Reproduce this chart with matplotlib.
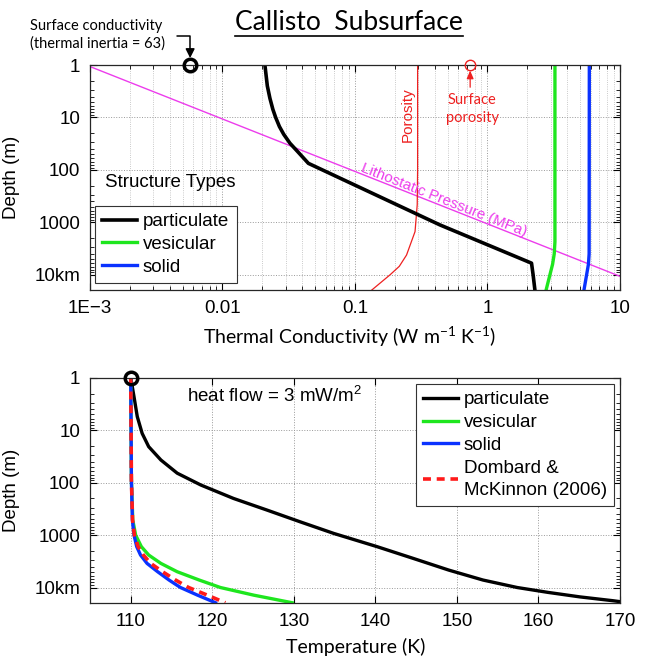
"""
Callisto subsurface: thermal conductivity and temperature profiles with depth
"""

import numpy as np
import matplotlib
matplotlib.use("Agg")
import matplotlib.pyplot as plt
from matplotlib.lines import Line2D
from matplotlib.ticker import NullFormatter, FixedLocator

SANS = "Liberation Sans"
CALI = "Lato"
plt.rcParams["font.family"] = SANS
plt.rcParams["font.size"] = 13.5

# Top panel: conductivity profiles (W m-1 K-1) against depth (m)
part_depth = [1, 2.5, 4.3, 7, 10, 14.9, 21, 31, 45, 75, 1120, 6000, 10000, 19500]
part_k     = [0.0209, 0.0218, 0.0228, 0.0240, 0.0252, 0.0269, 0.0290, 0.0323, 0.0370,
              0.0445, 0.438, 2.15, 2.21, 2.28]
vesi_depth = [1, 2350, 4000, 6300, 10000, 19500]
vesi_k     = [3.23, 3.23, 3.19, 3.10, 2.96, 2.77]
soli_depth = [1, 4000, 6300, 10000, 19500]
soli_k     = [5.87, 5.85, 5.78, 5.60, 5.35]
poro_depth = [1, 100, 460, 1500, 4200, 6900, 10000, 19500]
poro_val   = [0.297, 0.297, 0.295, 0.284, 0.245, 0.216, 0.184, 0.134]
litho_p     = [0.001, 10]
litho_depth = [1.07, 10700]
surf_k      = 0.0057
surf_poro   = 0.74

# Bottom panel: temperature (K) against depth (m)
t_part_depth = [1, 2.3, 5.5, 11.5, 20.6, 37, 66, 111, 200, 333, 560, 930, 1660, 2770,
                4650, 7200, 10000, 12400, 15100, 17900, 18600]
t_part       = [110, 110.4, 110.8, 111.4, 112.2, 113.7, 115.7, 118.6, 122.6, 126.7, 130.8,
                134.9, 140.2, 144.6, 149.0, 153.2, 157.4, 161.2, 165.1, 169.2, 170]
t_depth      = [1, 89, 516, 1000, 1660, 2400, 3470, 5000, 7200, 10000, 14000, 19500]
t_vesi       = [110, 110.08, 110.25, 110.6, 111.3, 112.2, 113.7, 115.7, 118.4, 121.0, 125.1, 129.8]
t_soli       = [110, 110.08, 110.2, 110.4, 110.73, 111.2, 112.0, 113.3, 114.7, 116.1, 118.2, 120.4]
t_dm         = [110, 110.08, 110.22, 110.45, 110.9, 111.55, 112.45, 113.9, 115.5, 117.1, 119.4, 121.6]

depth_ticks  = [1, 10, 100, 1000, 10000]
depth_labels = ["1", "10", "100", "1000", "10km"]
k_ticks      = [1e-3, 1e-2, 1e-1, 1, 10]
k_labels     = ["1E\u22123", "0.01", "0.1", "1", "10"]
t_ticks      = [110, 120, 130, 140, 150, 160, 170]

GREEN = "#1ee61e"
BLUE  = "#0a32ff"
MAG   = "#ec3cec"
RED   = "#ee2020"


def style_axes(ax):
    ax.tick_params(which="both", direction="in", top=True, right=True, labelsize=13.5, pad=7)
    ax.tick_params(which="major", length=5)
    ax.tick_params(which="minor", length=3)
    ax.yaxis.set_major_locator(FixedLocator(depth_ticks))
    ax.set_yticklabels(depth_labels)
    ax.yaxis.set_minor_formatter(NullFormatter())
    for s in ax.spines.values():
        s.set_linewidth(0.9)
        s.set_color("0.15")
    ax.set_ylabel("Depth (m)", fontsize=13.5)
    ax.yaxis.set_label_coords(-0.132, 0.5)


def boxed_legend(ax, handles, loc, anchor):
    leg = ax.legend(handles=handles, loc=loc, bbox_to_anchor=anchor, borderaxespad=0,
                    fancybox=False, edgecolor="0.2", framealpha=1, handlelength=1.85,
                    handletextpad=0.3, labelspacing=0.3, borderpad=0.4, fontsize=13.5)
    leg.get_frame().set_linewidth(0.8)
    for t in leg.get_texts():
        t.set_linespacing(1.4)
    return leg


fig = plt.figure(figsize=(6.45, 6.6), dpi=100)
ax1 = fig.add_axes([0.1395, 0.5606, 0.8217, 0.3409])
ax2 = fig.add_axes([0.1395, 0.0859, 0.8217, 0.3417])

# ---- top panel
ax1.set_xscale("log")
ax1.set_yscale("log")
ax1.set_xlim(1e-3, 10)
ax1.set_ylim(1.95e4, 1)
style_axes(ax1)
ax1.xaxis.set_major_locator(FixedLocator(k_ticks))
ax1.set_xticklabels(k_labels)
ax1.xaxis.set_minor_formatter(NullFormatter())
ax1.grid(True, which="major", ls=":", color="0.6", lw=0.7)
ax1.xaxis.grid(True, which="minor", ls=":", color="0.72", lw=0.6)

ax1.plot(litho_p, litho_depth, color=MAG, lw=1.0)
ax1.plot(poro_val, poro_depth, color=RED, lw=0.9)
l_part, = ax1.plot(part_k, part_depth, color="k", lw=2.6, label="particulate")
l_vesi, = ax1.plot(vesi_k, vesi_depth, color=GREEN, lw=2.4, label="vesicular")
l_soli, = ax1.plot(soli_k, soli_depth, color=BLUE, lw=2.4, label="solid")

ax1.set_xlabel("Thermal Conductivity (W m$\\mathregular{^{-1}}$ K$\\mathregular{^{-1}}$)",
               family=CALI, fontsize=14)
ax1.xaxis.set_label_coords(0.49, -0.209)
ax1.xaxis.label.set_va("center")

boxed_legend(ax1, [l_part, l_vesi, l_soli], "lower left", (0.0094, 0.03))
ax1.text(0.028, 0.476, "Structure Types", transform=ax1.transAxes, ha="left", va="center",
         fontsize=13.5)

# surface markers and notes
ax1.plot([surf_k], [1], "o", mfc="none", mec="k", mew=2.5, ms=9, clip_on=False, zorder=10)
ax1.annotate("", xy=(surf_k, 1), xytext=(-9.4, 20.9), textcoords="offset points",
             arrowprops=dict(arrowstyle="-|>,head_length=0.4,head_width=0.2",
                             connectionstyle="angle,angleA=0,angleB=90,rad=0",
                             shrinkA=0, shrinkB=5, lw=1.1, color="k"),
             annotation_clip=False)
fig.text(30 / 645, 1 - 35 / 660, "Surface conductivity\n(thermal inertia = 63)",
         ha="left", va="center", fontsize=10.5, family=CALI, linespacing=1.35)

ax1.plot([surf_poro], [1], "o", mfc="none", mec=RED, mew=1.0, ms=7.5, clip_on=False,
         zorder=10)
ax1.annotate("", xy=(surf_poro, 1), xytext=(0, -16), textcoords="offset points",
             arrowprops=dict(arrowstyle="-|>,head_length=0.35,head_width=0.15",
                             shrinkA=0, shrinkB=4, lw=0.9, color=RED),
             annotation_clip=False)
ax1.annotate("Surface\nporosity", xy=(surf_poro, 1), xytext=(1.4, -31.7),
             textcoords="offset points", ha="center", va="center", color=RED,
             fontsize=10.5, family=CALI, linespacing=1.3)
ax1.text(0.251, 8.9, "Porosity", rotation=90, ha="center", va="center", color=RED,
         fontsize=11)

p1 = ax1.transData.transform((litho_p[0], litho_depth[0]))
p2 = ax1.transData.transform((litho_p[1], litho_depth[1]))
ang = np.degrees(np.arctan2(p2[1] - p1[1], p2[0] - p1[0]))
ax1.text(0.47, 380, "Lithostatic Pressure (MPa)", rotation=ang, rotation_mode="anchor",
         ha="center", va="center", color=MAG, fontsize=10.8)

# ---- bottom panel
ax2.set_yscale("log")
ax2.set_xlim(105, 170)
ax2.set_ylim(2e4, 1)
style_axes(ax2)
ax2.set_xticks(t_ticks)
ax2.grid(True, which="major", ls=":", color="0.6", lw=0.7)

b_part, = ax2.plot(t_part, t_part_depth, color="k", lw=2.4, label="particulate")
b_vesi, = ax2.plot(t_vesi, t_depth, color=GREEN, lw=2.4, label="vesicular")
b_soli, = ax2.plot(t_soli, t_depth, color=BLUE, lw=2.4, label="solid")
b_dm,   = ax2.plot(t_dm, t_depth, color="#ff1a1a", lw=2.6, ls=(0, (2.2, 1.6)),
                   label="Dombard &\nMcKinnon (2006)")
ax2.plot([110], [1], "o", mfc="none", mec="k", mew=2.5, ms=9, clip_on=False, zorder=10)

ax2.set_xlabel("Temperature (K)", family=CALI, fontsize=14)
ax2.xaxis.set_label_coords(0.502, -0.192)
ax2.xaxis.label.set_va("center")

boxed_legend(ax2, [b_part, b_vesi, b_soli, b_dm], "upper right", (0.989, 0.973))
ax2.text(0.183, 0.919, "heat flow = 3 mW/m$\\mathregular{^2}$", transform=ax2.transAxes,
         ha="left", va="center", fontsize=13.5)

# ---- title with underline
title = fig.text(349 / 645, 1 - 22 / 660, "Callisto  Subsurface", ha="center", va="center",
                 fontsize=19, family=CALI)
fig.canvas.draw()
bb = title.get_window_extent().transformed(fig.transFigure.inverted())
fig.add_artist(Line2D([bb.x0, bb.x1], [bb.y0 - 0.003, bb.y0 - 0.003], color="k", lw=1.2,
                      transform=fig.transFigure))

plt.savefig("out.png", dpi=100)
plt.close()
